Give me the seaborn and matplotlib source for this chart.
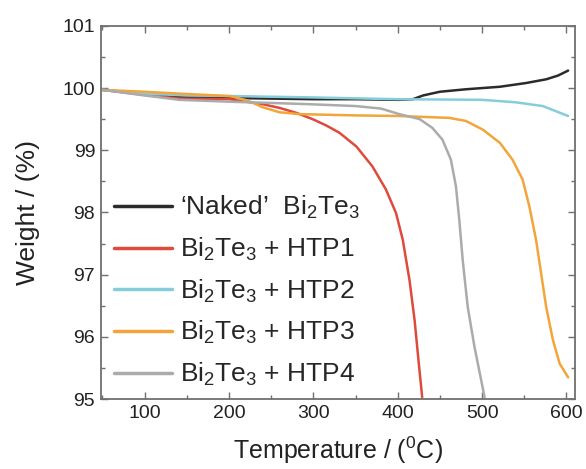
import pandas as pd
import matplotlib
matplotlib.use('Agg')
import matplotlib.pyplot as plt
import seaborn as sns
from matplotlib.ticker import MultipleLocator

# series
naked_x = [50, 100, 141, 200, 250, 300, 350, 402, 418, 430, 450, 481, 521, 552, 576, 590, 602]
naked_y = [99.97, 99.91, 99.86, 99.84, 99.83, 99.82, 99.82, 99.81, 99.82, 99.88, 99.94, 99.98, 100.02, 100.08, 100.14, 100.2, 100.28]

htp1_x = [50, 100, 141, 201, 240, 260, 280, 299, 315, 331, 351, 370, 386, 398, 406, 414, 420, 425, 429]
htp1_y = [99.97, 99.89, 99.83, 99.82, 99.74, 99.68, 99.6, 99.5, 99.4, 99.28, 99.06, 98.74, 98.37, 97.99, 97.56, 96.91, 96.27, 95.57, 95.03]

htp2_x = [50, 100, 150, 209, 250, 295, 400, 500, 540, 572, 587, 602]
htp2_y = [99.97, 99.91, 99.88, 99.87, 99.86, 99.85, 99.82, 99.81, 99.77, 99.71, 99.63, 99.55]

htp3_x = [50, 100, 141, 201, 222, 240, 260, 284, 350, 402, 461, 481, 501, 521, 536, 548, 556, 564, 570, 576, 584, 592, 602]
htp3_y = [99.97, 99.94, 99.91, 99.87, 99.8, 99.69, 99.61, 99.58, 99.56, 99.55, 99.52, 99.47, 99.33, 99.12, 98.85, 98.53, 98.1, 97.56, 97.02, 96.48, 95.95, 95.57, 95.35]

htp4_x = [50, 100, 141, 200, 250, 295, 350, 380, 402, 426, 441, 453, 463, 469, 473, 477, 483, 491, 499, 503]
htp4_y = [99.97, 99.88, 99.81, 99.78, 99.76, 99.74, 99.71, 99.67, 99.58, 99.5, 99.36, 99.17, 98.85, 98.42, 97.88, 97.24, 96.48, 95.84, 95.3, 95.03]

labels = ["\u2018Naked\u2019  Bi$_2$Te$_3$", "Bi$_2$Te$_3$ + HTP1", "Bi$_2$Te$_3$ + HTP2",
          "Bi$_2$Te$_3$ + HTP3", "Bi$_2$Te$_3$ + HTP4"]
colors = ['#2b2b2b', '#de4a3c', '#86cddb', '#f2a53a', '#ababab']

xs = [naked_x, htp1_x, htp2_x, htp3_x, htp4_x]
ys = [naked_y, htp1_y, htp2_y, htp3_y, htp4_y]
frames = []
for lab, x, y in zip(labels, xs, ys):
    frames.append(pd.DataFrame({'T': x, 'W': y, 'sample': lab}))
df = pd.concat(frames, ignore_index=True)

sns.set_style('ticks')
plt.rcParams['font.family'] = ['Liberation Sans', 'DejaVu Sans']
plt.rcParams['mathtext.fontset'] = 'custom'
plt.rcParams['mathtext.rm'] = 'Liberation Sans'
plt.rcParams['mathtext.it'] = 'Liberation Sans'

fig = plt.figure(figsize=(5.86, 4.69), dpi=100)
ax = fig.add_axes([0.172, 0.149, 0.809, 0.796])

sns.lineplot(data=df, x='T', y='W', hue='sample', palette=colors, hue_order=labels,
             sort=False, estimator=None, units='sample', linewidth=1.8, ax=ax)
for ln in ax.get_lines():
    ln.set_solid_joinstyle('round')

ax.set_xlim(48, 610)
ax.set_ylim(95, 101)
ax.xaxis.set_minor_locator(MultipleLocator(50))
ax.yaxis.set_minor_locator(MultipleLocator(0.5))
ax.set_xticks([100, 200, 300, 400, 500, 600])
ax.set_yticks([95, 96, 97, 98, 99, 100, 101])
ax.tick_params(which='both', direction='in', top=True, right=True, colors='#707070',
               labelcolor='#222222', width=1.0)
ax.tick_params(which='major', length=5, labelsize=14, pad=4)
ax.tick_params(which='minor', length=3)
for s in ax.spines.values():
    s.set_color('#707070')
    s.set_linewidth(1.3)

ax.set_xlabel('Temperature / ($^0$C)', fontsize=18, color='#222222', labelpad=9)
ax.set_ylabel('Weight / (%)', fontsize=19, color='#222222', labelpad=16)

leg = ax.legend(loc='lower left', bbox_to_anchor=(-0.012, -0.02), frameon=False, fontsize=19,
                handlelength=2.2, handletextpad=0.3, labelspacing=0.55, borderaxespad=0.3)
for line in leg.get_lines():
    line.set_linewidth(2.5)

fig.savefig('out.png', dpi=100)
